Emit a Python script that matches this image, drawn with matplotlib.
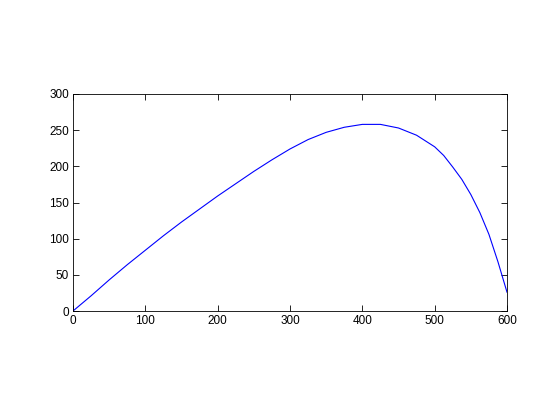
import matplotlib
matplotlib.use("Agg")
import matplotlib.pyplot as plt

# values
x_vals = [0, 25, 50, 75, 100, 125, 150, 175, 200, 225, 250, 275, 300, 325,
          350, 375, 400, 425, 450, 475, 500, 512.5, 525, 537.5, 550, 562.5,
          575, 587.5, 600]
y_vals = [0, 21, 43, 64, 84, 104, 123, 141, 159, 176, 193, 209, 224, 237,
          247, 254, 258, 258, 253, 243, 227, 215, 199, 182, 161, 136,
          106, 68, 26]

x_ticks = [0, 100, 200, 300, 400, 500, 600]
y_ticks = [0, 50, 100, 150, 200, 250, 300]

plt.rcParams["font.family"] = ["Liberation Sans", "DejaVu Sans"]

fig = plt.figure(figsize=(5.6, 4.2), dpi=100)
ax = fig.add_axes([73 / 560, 1 - 311 / 420, 434 / 560, 217 / 420])
ax.plot(x_vals, y_vals, color="#0000ff", linewidth=0.8)

ax.set_xlim(0, 600)
ax.set_ylim(0, 300)
ax.set_xticks(x_ticks)
ax.set_yticks(y_ticks)
ax.tick_params(direction="in", length=4, width=0.6, labelsize=8.5,
               top=True, right=True, colors="black", pad=3)
for s in ax.spines.values():
    s.set_linewidth(0.6)

fig.savefig("out.png", dpi=100)
